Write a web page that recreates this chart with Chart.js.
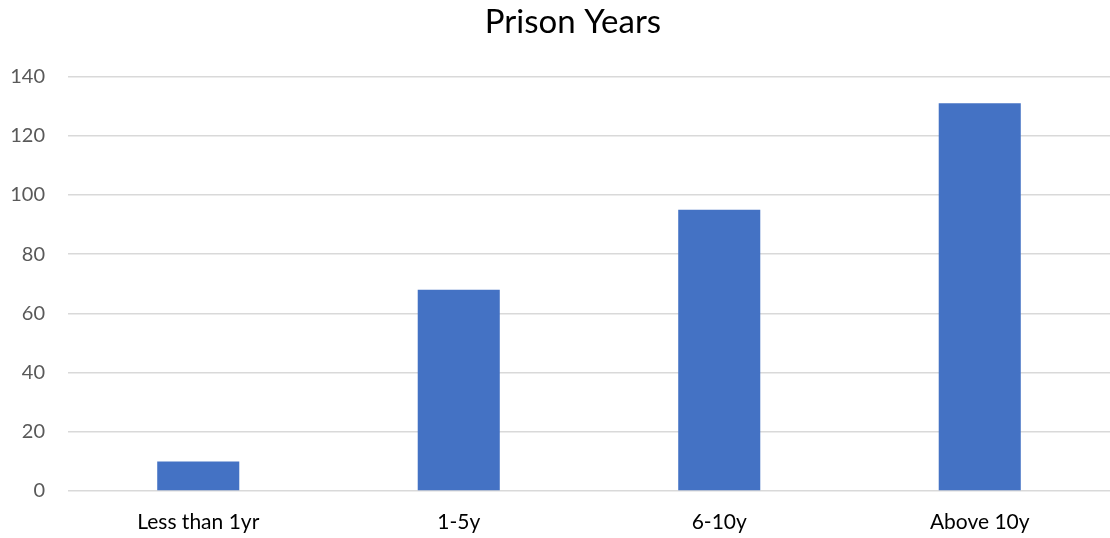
<!DOCTYPE html>
<html>
<head>
<meta charset="utf-8">
<title>Prison Years</title>
<script src="https://cdn.jsdelivr.net/npm/chart.js@4.4.0/dist/chart.umd.min.js"></script>
<style>
  html, body { margin: 0; padding: 0; background: #fff; }
  #wrap { width: 1110px; height: 538px; }
</style>
</head>
<body>
<div id="wrap"><canvas id="prisonChart"></canvas></div>
<script>
// Prison Years - bar chart

const categories = ['Less than 1yr', '1-5y', '6-10y', 'Above 10y'];
const prisonYears = [10, 68, 95, 131];
const yTicks = [0, 20, 40, 60, 80, 100, 120, 140];

const fontFamily = "Lato, 'Open Sans', sans-serif";

// nudge the title a bit to the right of the canvas centre
const titleNudge = {
    id: 'titleNudge',
    afterLayout(chart) {
        if (chart.titleBlock) {
            chart.titleBlock.left += 18;
            chart.titleBlock.right += 18;
        }
    }
};

function createPrisonChart() {
    const ctx = document.getElementById('prisonChart');

    new Chart(ctx.getContext('2d'), {
        type: 'bar',
        data: {
            labels: categories,
            datasets: [{
                label: 'Prison Years',
                data: prisonYears,
                backgroundColor: '#4472C4',
                borderWidth: 0,
                categoryPercentage: 1,
                barPercentage: 0.315
            }]
        },
        options: {
            responsive: true,
            maintainAspectRatio: false,
            animation: false,
            layout: { padding: { left: 0, right: 0, top: 0, bottom: 0 } },
            plugins: {
                legend: { display: false },
                tooltip: { enabled: false },
                title: {
                    display: true,
                    text: 'Prison Years',
                    color: '#000',
                    font: { family: fontFamily, size: 33, weight: 'normal' },
                    padding: { top: 3, bottom: 34 }
                }
            },
            scales: {
                x: {
                    grid: { display: false, drawTicks: false },
                    border: { display: false },
                    ticks: {
                        color: '#000',
                        padding: 19,
                        font: { family: fontFamily, size: 21 }
                    },
                    afterFit: function(scale) { scale.height = 47; }
                },
                y: {
                    min: 0,
                    max: 140,
                    afterBuildTicks: function(scale) {
                        scale.ticks = yTicks.map(v => ({ value: v }));
                    },
                    grid: { color: '#d9d9d9', lineWidth: 1.5, drawTicks: false },
                    border: { display: false },
                    ticks: {
                        color: '#595959',
                        padding: 23,
                        font: { family: fontFamily, size: 20 }
                    },
                    afterFit: function(scale) { scale.width = 68; }
                }
            }
        },
        plugins: [titleNudge]
    });
}

createPrisonChart();
</script>
</body>
</html>
